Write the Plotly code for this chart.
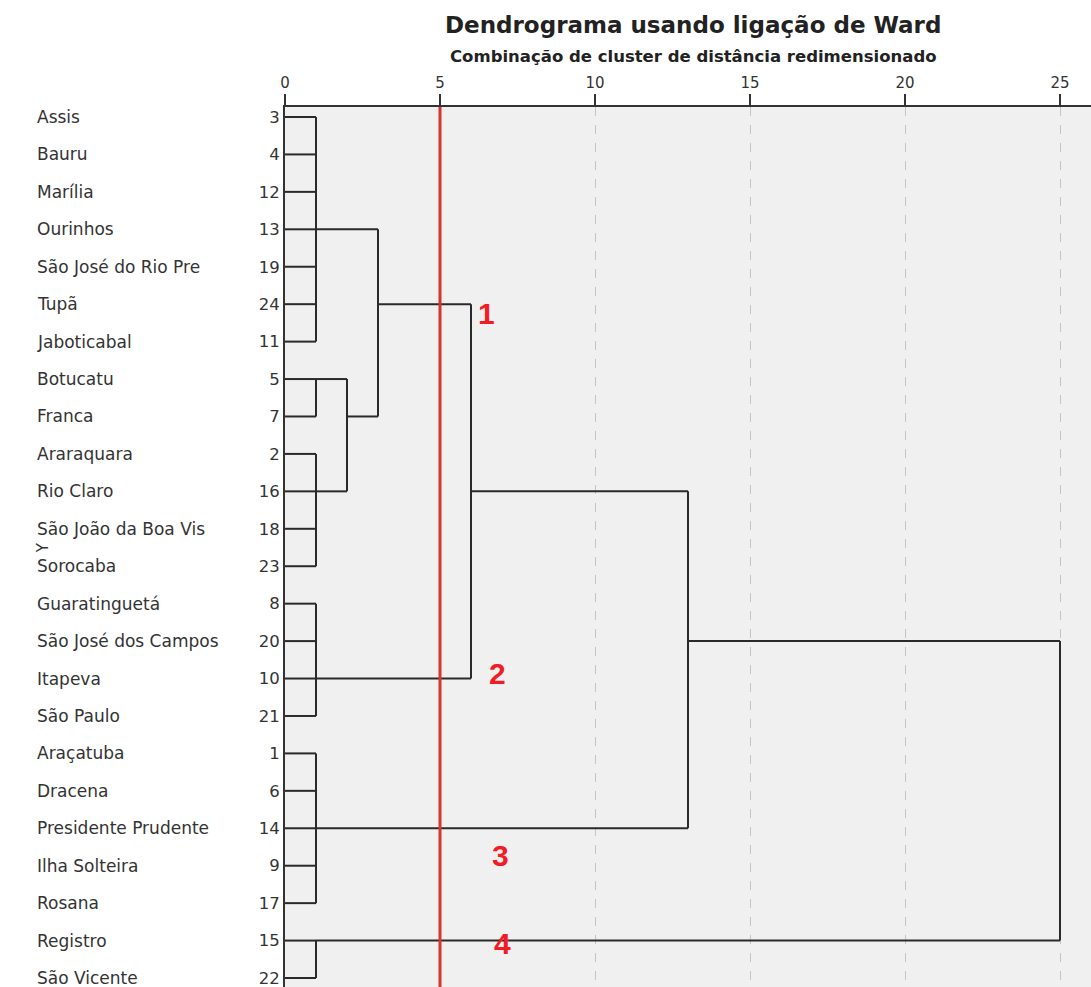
import plotly.graph_objects as go

# ---------------- data ----------------
leaf_ids = [3, 4, 12, 13, 19, 24, 11, 5, 7, 2, 16, 18, 23, 8, 20, 10, 21, 1, 6, 14, 9, 17, 15, 22]
leaf_names = ["Assis", "Bauru", "Marília", "Ourinhos", "São José do Rio Pre", "Tupã",
              "Jaboticabal", "Botucatu", "Franca", "Araraquara", "Rio Claro",
              "São João da Boa Vis", "Sorocaba", "Guaratinguetá", "São José dos Campos",
              "Itapeva", "São Paulo", "Araçatuba", "Dracena", "Presidente Prudente",
              "Ilha Solteira", "Rosana", "Registro", "São Vicente"]

# clusters: name -> (children, merge height, row of outgoing link)
# children are leaf row indices (int) or cluster names (str)
clusters = {
    "A": ([0, 1, 2, 3, 4, 5, 6], 1, 3),
    "B": ([7, 8], 1, 7),
    "C": ([9, 10, 11, 12], 1, 10),
    "D": ([13, 14, 15, 16], 1, 15),
    "E": ([17, 18, 19, 20, 21], 1, 19),
    "F": ([22, 23], 1, 22),
    "BC": (["B", "C"], 2, 8),
    "ABC": (["A", "BC"], 3, 5),
    "ABCD": (["ABC", "D"], 6, 10),
    "ABCDE": (["ABCD", "E"], 13, 14),
    "ALL": (["ABCDE", "F"], 25, None),
}
cut_level = 5
group_labels = ["1", "2", "3", "4"]
group_label_x = [6.5, 6.87, 6.94, 7.03]
group_label_row = [5.24, 14.87, 19.73, 22.08]

title = "Dendrograma usando ligação de Ward"
subtitle = "Combinação de cluster de distância redimensionado"
x_ticks = [0, 5, 10, 15, 20, 25]

# ---------------- build segments ----------------
def pos(child):
    if isinstance(child, int):
        return 0, child
    _, h, r = clusters[child]
    return h, r

xs, ys = [], []
for name, (children, h, r) in clusters.items():
    rows = []
    for c in children:
        cx, cy = pos(c)
        xs += [cx, h, None]
        ys += [cy, cy, None]
        rows.append(cy)
    xs += [h, h, None]
    ys += [min(rows), max(rows), None]

FONT = "DejaVu Sans, Verdana, sans-serif"
FONT_B = "Liberation Sans, Arial, sans-serif"
fig = go.Figure()
fig.add_trace(go.Scatter(x=xs, y=ys, mode="lines",
                         line=dict(color="#2a2a2a", width=2),
                         hoverinfo="skip", showlegend=False))

fig.add_shape(type="line", xref="x", yref="paper", x0=cut_level, x1=cut_level, y0=0, y1=1,
              line=dict(color="#d8352e", width=3), layer="above")

for t, gx, gy in zip(group_labels, group_label_x, group_label_row):
    fig.add_annotation(x=gx, y=gy, text="<b>%s</b>" % t, showarrow=False,
                       font=dict(family=FONT_B, size=30, color="#f21c24"),
                       xanchor="center", yanchor="middle")

for i, nm in enumerate(leaf_names):
    fig.add_annotation(xref="paper", yref="y", x=-250 / 806, y=i, text=nm,
                       showarrow=False, xanchor="left", yanchor="middle",
                       font=dict(family=FONT, size=17, color="#333333"))

fig.add_annotation(xref="paper", yref="y", x=-242 / 806, y=11.52, text="Y",
                   textangle=-90, showarrow=False, xanchor="center", yanchor="middle",
                   font=dict(family=FONT, size=15, color="#333333"))

fig.add_annotation(xref="paper", yref="paper", x=(693 - 285) / 806, y=1 + (107 - 25) / 880,
                   text="<b>%s</b>" % title, showarrow=False, xanchor="center", yanchor="middle",
                   font=dict(family=FONT, size=23, color="#222222"))
fig.add_annotation(xref="paper", yref="paper", x=(693 - 285) / 806, y=1 + (107 - 57) / 880,
                   text="<b>%s</b>" % subtitle, showarrow=False, xanchor="center", yanchor="middle",
                   font=dict(family=FONT, size=16.5, color="#222222"))

fig.update_layout(
    width=1091, height=987,
    margin=dict(l=285, r=0, t=107, b=0),
    paper_bgcolor="white", plot_bgcolor="#f0f0f0",
    xaxis=dict(side="top", range=[0, 26], tickvals=x_ticks, ticktext=[str(v) for v in x_ticks],
               ticks="outside", ticklen=11, tickwidth=2, tickcolor="#333333",
               showline=True, linewidth=2, linecolor="#333333",
               showgrid=True, gridcolor="#c4c4c4", griddash="dash", gridwidth=1,
               zeroline=False, tickfont=dict(family=FONT, size=15, color="#333333")),
    yaxis=dict(range=[23.24, -0.267], tickvals=list(range(len(leaf_ids))),
               ticktext=[str(v) for v in leaf_ids], ticks="", showgrid=False,
               showline=True, linewidth=2, linecolor="#333333", zeroline=False,
               ticklabeloverflow="allow",
               tickfont=dict(family=FONT, size=16.5, color="#333333")),
)

fig.write_html("out.html", config={"displayModeBar": False},
               post_script="document.body.style.margin='0';document.body.style.overflow='hidden';")
